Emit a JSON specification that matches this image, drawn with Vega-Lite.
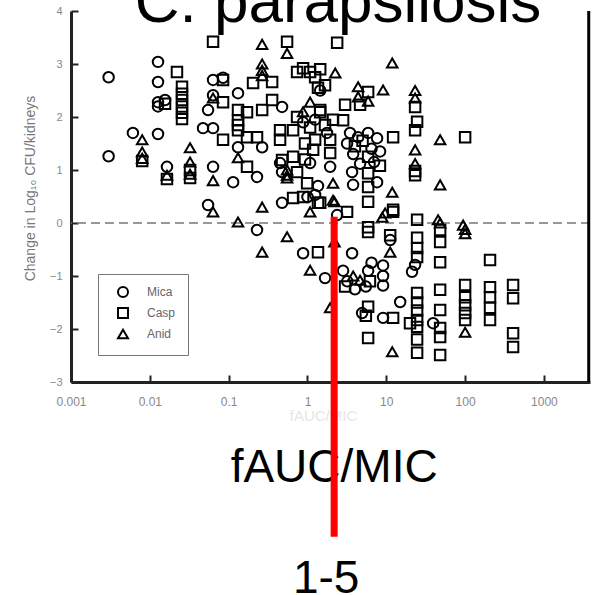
{
  "$schema": "https://vega.github.io/schema/vega-lite/v6.json",
  "width": 519,
  "height": 371,
  "autosize": "none",
  "padding": {"left": 71, "top": 11, "right": 2, "bottom": 213},
  "background": "white",
  "config": {"view": {"stroke": null}, "font": "Liberation Sans"},
  "data": {
    "values": [
      {"drug": "Mica", "fauc_mic": 0.003, "delta": 2.75},
      {"drug": "Mica", "fauc_mic": 0.003, "delta": 1.26},
      {"drug": "Mica", "fauc_mic": 0.0061, "delta": 1.70},
      {"drug": "Mica", "fauc_mic": 0.0127, "delta": 3.04},
      {"drug": "Mica", "fauc_mic": 0.0127, "delta": 2.66},
      {"drug": "Mica", "fauc_mic": 0.0127, "delta": 2.28},
      {"drug": "Mica", "fauc_mic": 0.0127, "delta": 2.2},
      {"drug": "Mica", "fauc_mic": 0.0156, "delta": 2.32},
      {"drug": "Mica", "fauc_mic": 0.0127, "delta": 1.68},
      {"drug": "Mica", "fauc_mic": 0.0165, "delta": 1.06},
      {"drug": "Mica", "fauc_mic": 0.0634, "delta": 1.06},
      {"drug": "Mica", "fauc_mic": 0.114, "delta": 0.77},
      {"drug": "Mica", "fauc_mic": 0.229, "delta": 0.87},
      {"drug": "Mica", "fauc_mic": 0.0548, "delta": 0.34},
      {"drug": "Mica", "fauc_mic": 0.476, "delta": 0.38},
      {"drug": "Mica", "fauc_mic": 0.0634, "delta": 2.70},
      {"drug": "Mica", "fauc_mic": 0.0849, "delta": 2.74},
      {"drug": "Mica", "fauc_mic": 0.0634, "delta": 2.41},
      {"drug": "Mica", "fauc_mic": 0.0548, "delta": 2.13},
      {"drug": "Mica", "fauc_mic": 0.1315, "delta": 2.45},
      {"drug": "Mica", "fauc_mic": 0.0473, "delta": 1.79},
      {"drug": "Mica", "fauc_mic": 0.0634, "delta": 1.79},
      {"drug": "Mica", "fauc_mic": 0.1315, "delta": 1.43},
      {"drug": "Mica", "fauc_mic": 0.266, "delta": 1.43},
      {"drug": "Mica", "fauc_mic": 0.476, "delta": 2.19},
      {"drug": "Mica", "fauc_mic": 1.45, "delta": 2.5},
      {"drug": "Mica", "fauc_mic": 0.88, "delta": 1.9},
      {"drug": "Mica", "fauc_mic": 1.25, "delta": 1.95},
      {"drug": "Mica", "fauc_mic": 1.77, "delta": 1.7},
      {"drug": "Mica", "fauc_mic": 0.449, "delta": 1.13},
      {"drug": "Mica", "fauc_mic": 0.476, "delta": 0.96},
      {"drug": "Mica", "fauc_mic": 1.25, "delta": 0.53},
      {"drug": "Mica", "fauc_mic": 1.08, "delta": 1.13},
      {"drug": "Mica", "fauc_mic": 1.94, "delta": 1.06},
      {"drug": "Mica", "fauc_mic": 1.36, "delta": 0.7},
      {"drug": "Mica", "fauc_mic": 3.47, "delta": 1.70},
      {"drug": "Mica", "fauc_mic": 4.39, "delta": 1.62},
      {"drug": "Mica", "fauc_mic": 5.88, "delta": 1.70},
      {"drug": "Mica", "fauc_mic": 7.64, "delta": 1.6},
      {"drug": "Mica", "fauc_mic": 6.5, "delta": 1.40},
      {"drug": "Mica", "fauc_mic": 3.8, "delta": 1.30},
      {"drug": "Mica", "fauc_mic": 8.34, "delta": 1.35},
      {"drug": "Mica", "fauc_mic": 7.0, "delta": 1.15},
      {"drug": "Mica", "fauc_mic": 4.65, "delta": 1.12},
      {"drug": "Mica", "fauc_mic": 3.18, "delta": 1.5},
      {"drug": "Mica", "fauc_mic": 3.68, "delta": 0.96},
      {"drug": "Mica", "fauc_mic": 3.79, "delta": 0.72},
      {"drug": "Mica", "fauc_mic": 7.64, "delta": 0.77},
      {"drug": "Mica", "fauc_mic": 1.0, "delta": 0.49},
      {"drug": "Mica", "fauc_mic": 2.38, "delta": 0.15},
      {"drug": "Mica", "fauc_mic": 11.2, "delta": -0.32},
      {"drug": "Mica", "fauc_mic": 3.68, "delta": -0.57},
      {"drug": "Mica", "fauc_mic": 23.2, "delta": -0.79},
      {"drug": "Mica", "fauc_mic": 21.2, "delta": -0.92},
      {"drug": "Mica", "fauc_mic": 9.1, "delta": -0.8},
      {"drug": "Mica", "fauc_mic": 9.1, "delta": -1.0},
      {"drug": "Mica", "fauc_mic": 9.1, "delta": -1.18},
      {"drug": "Mica", "fauc_mic": 1.67, "delta": -1.04},
      {"drug": "Mica", "fauc_mic": 2.83, "delta": -0.9},
      {"drug": "Mica", "fauc_mic": 3.2, "delta": -1.1},
      {"drug": "Mica", "fauc_mic": 4.0, "delta": -1.25},
      {"drug": "Mica", "fauc_mic": 15.0, "delta": -1.49},
      {"drug": "Mica", "fauc_mic": 4.93, "delta": -1.70},
      {"drug": "Mica", "fauc_mic": 9.1, "delta": -1.79},
      {"drug": "Mica", "fauc_mic": 39.3, "delta": -1.89},
      {"drug": "Mica", "fauc_mic": 0.229, "delta": -0.13},
      {"drug": "Mica", "fauc_mic": 0.88, "delta": -0.57},
      {"drug": "Mica", "fauc_mic": 5.88, "delta": -0.9},
      {"drug": "Mica", "fauc_mic": 5.5, "delta": -1.2},
      {"drug": "Mica", "fauc_mic": 6.5, "delta": -0.75},
      {"drug": "Casp", "fauc_mic": 0.008, "delta": 1.17},
      {"drug": "Casp", "fauc_mic": 0.0156, "delta": 2.25},
      {"drug": "Casp", "fauc_mic": 0.0221, "delta": 2.85},
      {"drug": "Casp", "fauc_mic": 0.0256, "delta": 2.57},
      {"drug": "Casp", "fauc_mic": 0.0256, "delta": 2.44},
      {"drug": "Casp", "fauc_mic": 0.0256, "delta": 2.32},
      {"drug": "Casp", "fauc_mic": 0.0256, "delta": 2.2},
      {"drug": "Casp", "fauc_mic": 0.0256, "delta": 2.08},
      {"drug": "Casp", "fauc_mic": 0.0256, "delta": 1.96},
      {"drug": "Casp", "fauc_mic": 0.0165, "delta": 0.83},
      {"drug": "Casp", "fauc_mic": 0.0324, "delta": 1.0},
      {"drug": "Casp", "fauc_mic": 0.0324, "delta": 0.85},
      {"drug": "Casp", "fauc_mic": 0.0849, "delta": 2.70},
      {"drug": "Casp", "fauc_mic": 0.0849, "delta": 2.28},
      {"drug": "Casp", "fauc_mic": 0.1315, "delta": 2.13},
      {"drug": "Casp", "fauc_mic": 0.1315, "delta": 1.94},
      {"drug": "Casp", "fauc_mic": 0.0849, "delta": 1.57},
      {"drug": "Casp", "fauc_mic": 0.1315, "delta": 1.75},
      {"drug": "Casp", "fauc_mic": 0.1315, "delta": 1.85},
      {"drug": "Casp", "fauc_mic": 0.171, "delta": 1.06},
      {"drug": "Casp", "fauc_mic": 0.171, "delta": 1.62},
      {"drug": "Casp", "fauc_mic": 0.229, "delta": 1.62},
      {"drug": "Casp", "fauc_mic": 0.356, "delta": 2.66},
      {"drug": "Casp", "fauc_mic": 0.204, "delta": 2.64},
      {"drug": "Casp", "fauc_mic": 0.356, "delta": 2.32},
      {"drug": "Casp", "fauc_mic": 0.266, "delta": 2.13},
      {"drug": "Casp", "fauc_mic": 0.171, "delta": 2.09},
      {"drug": "Casp", "fauc_mic": 0.738, "delta": 2.85},
      {"drug": "Casp", "fauc_mic": 1.08, "delta": 2.85},
      {"drug": "Casp", "fauc_mic": 1.25, "delta": 2.75},
      {"drug": "Casp", "fauc_mic": 1.45, "delta": 2.9},
      {"drug": "Casp", "fauc_mic": 1.67, "delta": 2.6},
      {"drug": "Casp", "fauc_mic": 1.36, "delta": 2.55},
      {"drug": "Casp", "fauc_mic": 1.45, "delta": 2.09},
      {"drug": "Casp", "fauc_mic": 0.738, "delta": 2.0},
      {"drug": "Casp", "fauc_mic": 1.08, "delta": 1.8},
      {"drug": "Casp", "fauc_mic": 1.67, "delta": 1.85},
      {"drug": "Casp", "fauc_mic": 2.11, "delta": 1.95},
      {"drug": "Casp", "fauc_mic": 0.449, "delta": 1.75},
      {"drug": "Casp", "fauc_mic": 0.657, "delta": 1.75},
      {"drug": "Casp", "fauc_mic": 0.449, "delta": 1.57},
      {"drug": "Casp", "fauc_mic": 0.476, "delta": 1.19},
      {"drug": "Casp", "fauc_mic": 0.657, "delta": 1.25},
      {"drug": "Casp", "fauc_mic": 0.738, "delta": 0.96},
      {"drug": "Casp", "fauc_mic": 0.657, "delta": 0.47},
      {"drug": "Casp", "fauc_mic": 0.88, "delta": 0.49},
      {"drug": "Casp", "fauc_mic": 1.36, "delta": 0.38},
      {"drug": "Casp", "fauc_mic": 0.99, "delta": 0.75},
      {"drug": "Casp", "fauc_mic": 1.25, "delta": 1.57},
      {"drug": "Casp", "fauc_mic": 1.94, "delta": 1.57},
      {"drug": "Casp", "fauc_mic": 1.94, "delta": 1.32},
      {"drug": "Casp", "fauc_mic": 1.18, "delta": 1.38},
      {"drug": "Casp", "fauc_mic": 0.0634, "delta": 3.42},
      {"drug": "Casp", "fauc_mic": 0.551, "delta": 3.42},
      {"drug": "Casp", "fauc_mic": 2.38, "delta": 3.40},
      {"drug": "Casp", "fauc_mic": 0.88, "delta": 2.92},
      {"drug": "Casp", "fauc_mic": 5.88, "delta": 2.47},
      {"drug": "Casp", "fauc_mic": 4.65, "delta": 2.23},
      {"drug": "Casp", "fauc_mic": 3.0, "delta": 2.23},
      {"drug": "Casp", "fauc_mic": 2.83, "delta": 1.94},
      {"drug": "Casp", "fauc_mic": 1.45, "delta": 2.13},
      {"drug": "Casp", "fauc_mic": 23.2, "delta": 2.19},
      {"drug": "Casp", "fauc_mic": 24.6, "delta": 1.91},
      {"drug": "Casp", "fauc_mic": 23.2, "delta": 1.75},
      {"drug": "Casp", "fauc_mic": 12.2, "delta": 1.62},
      {"drug": "Casp", "fauc_mic": 5.0, "delta": 1.55},
      {"drug": "Casp", "fauc_mic": 4.0, "delta": 1.45},
      {"drug": "Casp", "fauc_mic": 5.88, "delta": 1.25},
      {"drug": "Casp", "fauc_mic": 8.3, "delta": 1.08},
      {"drug": "Casp", "fauc_mic": 23.2, "delta": 0.98},
      {"drug": "Casp", "fauc_mic": 23.2, "delta": 0.90},
      {"drug": "Casp", "fauc_mic": 100, "delta": 1.62},
      {"drug": "Casp", "fauc_mic": 0.93, "delta": 1.5},
      {"drug": "Casp", "fauc_mic": 0.93, "delta": 1.2},
      {"drug": "Casp", "fauc_mic": 5.88, "delta": 0.94},
      {"drug": "Casp", "fauc_mic": 5.88, "delta": 0.68},
      {"drug": "Casp", "fauc_mic": 5.88, "delta": 0.40},
      {"drug": "Casp", "fauc_mic": 12.2, "delta": 0.25},
      {"drug": "Casp", "fauc_mic": 1.45, "delta": 0.38},
      {"drug": "Casp", "fauc_mic": 3.18, "delta": 0.21},
      {"drug": "Casp", "fauc_mic": 24.6, "delta": 0.06},
      {"drug": "Casp", "fauc_mic": 5.88, "delta": -0.08},
      {"drug": "Casp", "fauc_mic": 12.2, "delta": 0.21},
      {"drug": "Casp", "fauc_mic": 48.2, "delta": -0.13},
      {"drug": "Casp", "fauc_mic": 48.2, "delta": -0.36},
      {"drug": "Casp", "fauc_mic": 5.88, "delta": -0.17},
      {"drug": "Casp", "fauc_mic": 11.2, "delta": -0.23},
      {"drug": "Casp", "fauc_mic": 24.6, "delta": -0.28},
      {"drug": "Casp", "fauc_mic": 48.2, "delta": -0.74},
      {"drug": "Casp", "fauc_mic": 24.6, "delta": -0.47},
      {"drug": "Casp", "fauc_mic": 24.6, "delta": -0.64},
      {"drug": "Casp", "fauc_mic": 207, "delta": -0.70},
      {"drug": "Casp", "fauc_mic": 3.0, "delta": -1.2},
      {"drug": "Casp", "fauc_mic": 48.2, "delta": -1.26},
      {"drug": "Casp", "fauc_mic": 100, "delta": -1.17},
      {"drug": "Casp", "fauc_mic": 207, "delta": -1.21},
      {"drug": "Casp", "fauc_mic": 207, "delta": -1.40},
      {"drug": "Casp", "fauc_mic": 207, "delta": -1.60},
      {"drug": "Casp", "fauc_mic": 207, "delta": -1.83},
      {"drug": "Casp", "fauc_mic": 406, "delta": -1.17},
      {"drug": "Casp", "fauc_mic": 406, "delta": -1.42},
      {"drug": "Casp", "fauc_mic": 100, "delta": -1.4},
      {"drug": "Casp", "fauc_mic": 100, "delta": -1.55},
      {"drug": "Casp", "fauc_mic": 100, "delta": -1.7},
      {"drug": "Casp", "fauc_mic": 100, "delta": -1.83},
      {"drug": "Casp", "fauc_mic": 24.6, "delta": -1.32},
      {"drug": "Casp", "fauc_mic": 24.6, "delta": -1.5},
      {"drug": "Casp", "fauc_mic": 24.6, "delta": -1.65},
      {"drug": "Casp", "fauc_mic": 24.6, "delta": -1.83},
      {"drug": "Casp", "fauc_mic": 5.88, "delta": -1.58},
      {"drug": "Casp", "fauc_mic": 12.2, "delta": -1.79},
      {"drug": "Casp", "fauc_mic": 48.2, "delta": -1.64},
      {"drug": "Casp", "fauc_mic": 48.2, "delta": -1.98},
      {"drug": "Casp", "fauc_mic": 48.2, "delta": -2.15},
      {"drug": "Casp", "fauc_mic": 48.2, "delta": -2.49},
      {"drug": "Casp", "fauc_mic": 24.6, "delta": -1.96},
      {"drug": "Casp", "fauc_mic": 24.6, "delta": -2.2},
      {"drug": "Casp", "fauc_mic": 24.6, "delta": -2.45},
      {"drug": "Casp", "fauc_mic": 20, "delta": -1.89},
      {"drug": "Casp", "fauc_mic": 5.88, "delta": -2.17},
      {"drug": "Casp", "fauc_mic": 406, "delta": -2.08},
      {"drug": "Casp", "fauc_mic": 406, "delta": -2.34},
      {"drug": "Casp", "fauc_mic": 1.36, "delta": -0.55},
      {"drug": "Casp", "fauc_mic": 6.2, "delta": -1.1},
      {"drug": "Casp", "fauc_mic": 5.5, "delta": -1.75},
      {"drug": "Anid", "fauc_mic": 0.008, "delta": 1.57},
      {"drug": "Anid", "fauc_mic": 0.008, "delta": 1.34},
      {"drug": "Anid", "fauc_mic": 0.008, "delta": 1.22},
      {"drug": "Anid", "fauc_mic": 0.0165, "delta": 0.90},
      {"drug": "Anid", "fauc_mic": 0.0324, "delta": 1.42},
      {"drug": "Anid", "fauc_mic": 0.0324, "delta": 1.15},
      {"drug": "Anid", "fauc_mic": 0.0324, "delta": 0.92},
      {"drug": "Anid", "fauc_mic": 0.0634, "delta": 0.80},
      {"drug": "Anid", "fauc_mic": 0.0634, "delta": 0.21},
      {"drug": "Anid", "fauc_mic": 0.266, "delta": 0.30},
      {"drug": "Anid", "fauc_mic": 1.08, "delta": 0.21},
      {"drug": "Anid", "fauc_mic": 0.1315, "delta": 0.02},
      {"drug": "Anid", "fauc_mic": 0.0634, "delta": 2.36},
      {"drug": "Anid", "fauc_mic": 0.1315, "delta": 1.23},
      {"drug": "Anid", "fauc_mic": 0.266, "delta": 3.0},
      {"drug": "Anid", "fauc_mic": 0.266, "delta": 2.88},
      {"drug": "Anid", "fauc_mic": 0.266, "delta": 2.78},
      {"drug": "Anid", "fauc_mic": 0.551, "delta": 3.2},
      {"drug": "Anid", "fauc_mic": 1.08, "delta": 2.28},
      {"drug": "Anid", "fauc_mic": 0.88, "delta": 2.1},
      {"drug": "Anid", "fauc_mic": 0.551, "delta": 1.0},
      {"drug": "Anid", "fauc_mic": 0.551, "delta": 0.9},
      {"drug": "Anid", "fauc_mic": 0.551, "delta": 0.85},
      {"drug": "Anid", "fauc_mic": 2.11, "delta": 0.43},
      {"drug": "Anid", "fauc_mic": 2.11, "delta": 0.75},
      {"drug": "Anid", "fauc_mic": 0.266, "delta": 3.37},
      {"drug": "Anid", "fauc_mic": 11.9, "delta": 3.02},
      {"drug": "Anid", "fauc_mic": 2.25, "delta": 2.83},
      {"drug": "Anid", "fauc_mic": 4.39, "delta": 2.57},
      {"drug": "Anid", "fauc_mic": 9.1, "delta": 2.51},
      {"drug": "Anid", "fauc_mic": 4.39, "delta": 2.38},
      {"drug": "Anid", "fauc_mic": 5.88, "delta": 2.30},
      {"drug": "Anid", "fauc_mic": 23.2, "delta": 2.50},
      {"drug": "Anid", "fauc_mic": 23.2, "delta": 2.36},
      {"drug": "Anid", "fauc_mic": 48.2, "delta": 1.57},
      {"drug": "Anid", "fauc_mic": 23.2, "delta": 1.38},
      {"drug": "Anid", "fauc_mic": 23.2, "delta": 1.12},
      {"drug": "Anid", "fauc_mic": 48.2, "delta": 0.72},
      {"drug": "Anid", "fauc_mic": 11.9, "delta": 0.58},
      {"drug": "Anid", "fauc_mic": 2.2, "delta": 0.40},
      {"drug": "Anid", "fauc_mic": 8.9, "delta": 0.11},
      {"drug": "Anid", "fauc_mic": 45.4, "delta": 0.06},
      {"drug": "Anid", "fauc_mic": 48.2, "delta": 0.0},
      {"drug": "Anid", "fauc_mic": 94.4, "delta": -0.04},
      {"drug": "Anid", "fauc_mic": 9.66, "delta": 0.19},
      {"drug": "Anid", "fauc_mic": 100, "delta": -0.12},
      {"drug": "Anid", "fauc_mic": 100, "delta": -0.20},
      {"drug": "Anid", "fauc_mic": 11.2, "delta": -0.55},
      {"drug": "Anid", "fauc_mic": 4.65, "delta": -1.08},
      {"drug": "Anid", "fauc_mic": 3.8, "delta": -1.0},
      {"drug": "Anid", "fauc_mic": 11.9, "delta": -2.43},
      {"drug": "Anid", "fauc_mic": 100, "delta": -2.06},
      {"drug": "Anid", "fauc_mic": 1.94, "delta": -1.60},
      {"drug": "Anid", "fauc_mic": 0.266, "delta": -0.55},
      {"drug": "Anid", "fauc_mic": 0.551, "delta": -0.26},
      {"drug": "Anid", "fauc_mic": 1.08, "delta": -0.89},
      {"drug": "Anid", "fauc_mic": 2.2, "delta": -0.36}
    ]
  },
  "layer": [
    {
      "data": {"values": [{}]},
      "mark": {"type": "rule", "color": "#777777", "strokeWidth": 1.5, "strokeDash": [9, 5]},
      "encoding": {
        "y": {"datum": 0, "type": "quantitative", "scale": {"domain": [-3, 4], "nice": false}}
      }
    },
    {
      "data": {"values": [{}]},
      "mark": {"type": "rule", "color": "black", "strokeWidth": 3},
      "encoding": {
        "x": {"datum": 3700, "type": "quantitative", "scale": {"type": "log", "domain": [0.001, 3840], "nice": false}},
        "y": {"datum": 4, "type": "quantitative", "scale": {"domain": [-3, 4], "nice": false}},
        "y2": {"datum": -3}
      }
    },
    {
      "mark": {"type": "point", "filled": false, "color": "black", "strokeWidth": 2, "size": 110, "opacity": 1},
      "encoding": {
        "x": {
          "field": "fauc_mic",
          "type": "quantitative",
          "scale": {"type": "log", "domain": [0.001, 3840], "nice": false},
          "axis": {
            "values": [0.001, 0.01, 0.1, 1, 10, 100, 1000],
            "format": "~g",
            "grid": false,
            "title": "fAUC/MIC",
            "titleColor": "#e6e6e6",
            "titleFontSize": 15,
            "titleFontWeight": "normal",
            "titleX": 252,
            "titleY": 33,
            "titleBaseline": "middle",
            "domainColor": "#222222",
            "domainWidth": 3,
            "tickColor": "#222222",
            "tickWidth": 2,
            "tickSize": -7,
            "labelColor": "#888888",
            "labelFontSize": 12,
            "labelPadding": 21,
            "labelOverlap": false,
            "labelFlush": false
          }
        },
        "y": {
          "field": "delta",
          "type": "quantitative",
          "scale": {"domain": [-3, 4], "nice": false},
          "axis": {
            "values": [-3, -2, -1, 0, 1, 2, 3, 4],
            "format": "d",
            "grid": false,
            "title": "Change in Log₁₀ CFU/kidneys",
            "titleColor": "#777777",
            "titleFontSize": 14,
            "titleFontWeight": "normal",
            "titleX": -41,
            "titleY": 177,
            "titleBaseline": "middle",
            "domainColor": "#222222",
            "domainWidth": 3,
            "tickColor": "#222222",
            "tickWidth": 2,
            "tickSize": -7,
            "labelColor": "#888888",
            "labelFontSize": 11,
            "labelPadding": 16,
            "labelOverlap": false
          }
        },
        "shape": {
          "field": "drug",
          "type": "nominal",
          "scale": {"domain": ["Mica", "Casp", "Anid"], "range": ["circle", "square", "triangle-up"]},
          "legend": {
            "title": null,
            "orient": "bottom-left",
            "offset": 27,
            "strokeColor": "#777777",
            "padding": 12,
            "symbolOffset": 7,
            "labelOffset": 18,
            "rowPadding": 3,
            "labelFontSize": 12,
            "labelColor": "#666666",
            "symbolStrokeColor": "black",
            "symbolStrokeWidth": 2,
            "symbolSize": 100
          }
        }
      }
    },
    {
      "data": {"values": [{}]},
      "mark": {"type": "text", "text": "C. parapsilosis", "fontSize": 62, "font": "Liberation Sans", "color": "black", "align": "center", "baseline": "alphabetic"},
      "encoding": {
        "x": {"datum": 2.44, "type": "quantitative", "scale": {"type": "log", "domain": [0.001, 3840], "nice": false}},
        "y": {"datum": 3.79, "type": "quantitative", "scale": {"domain": [-3, 4], "nice": false}}
      }
    },
    {
      "data": {"values": [{}]},
      "mark": {"type": "text", "text": "fAUC/MIC", "fontSize": 46, "font": "Liberation Sans", "color": "black", "align": "center", "baseline": "alphabetic"},
      "encoding": {
        "x": {"datum": 2.18, "type": "quantitative", "scale": {"type": "log", "domain": [0.001, 3840], "nice": false}},
        "y": {"datum": -4.89, "type": "quantitative", "scale": {"domain": [-3, 4], "nice": false}}
      }
    },
    {
      "data": {"values": [{}]},
      "mark": {"type": "text", "text": "1-5", "fontSize": 46, "font": "Liberation Sans", "color": "black", "align": "center", "baseline": "alphabetic", "dx": -8},
      "encoding": {
        "x": {"datum": 2.18, "type": "quantitative", "scale": {"type": "log", "domain": [0.001, 3840], "nice": false}},
        "y": {"datum": -6.98, "type": "quantitative", "scale": {"domain": [-3, 4], "nice": false}}
      }
    },
    {
      "data": {"values": [{}]},
      "mark": {"type": "rule", "color": "#ff0000", "strokeWidth": 7},
      "encoding": {
        "x": {"datum": 2.18, "type": "quantitative", "scale": {"type": "log", "domain": [0.001, 3840], "nice": false}},
        "y": {"datum": 0.12, "type": "quantitative", "scale": {"domain": [-3, 4], "nice": false}},
        "y2": {"datum": -5.92}
      }
    }
  ]
}
